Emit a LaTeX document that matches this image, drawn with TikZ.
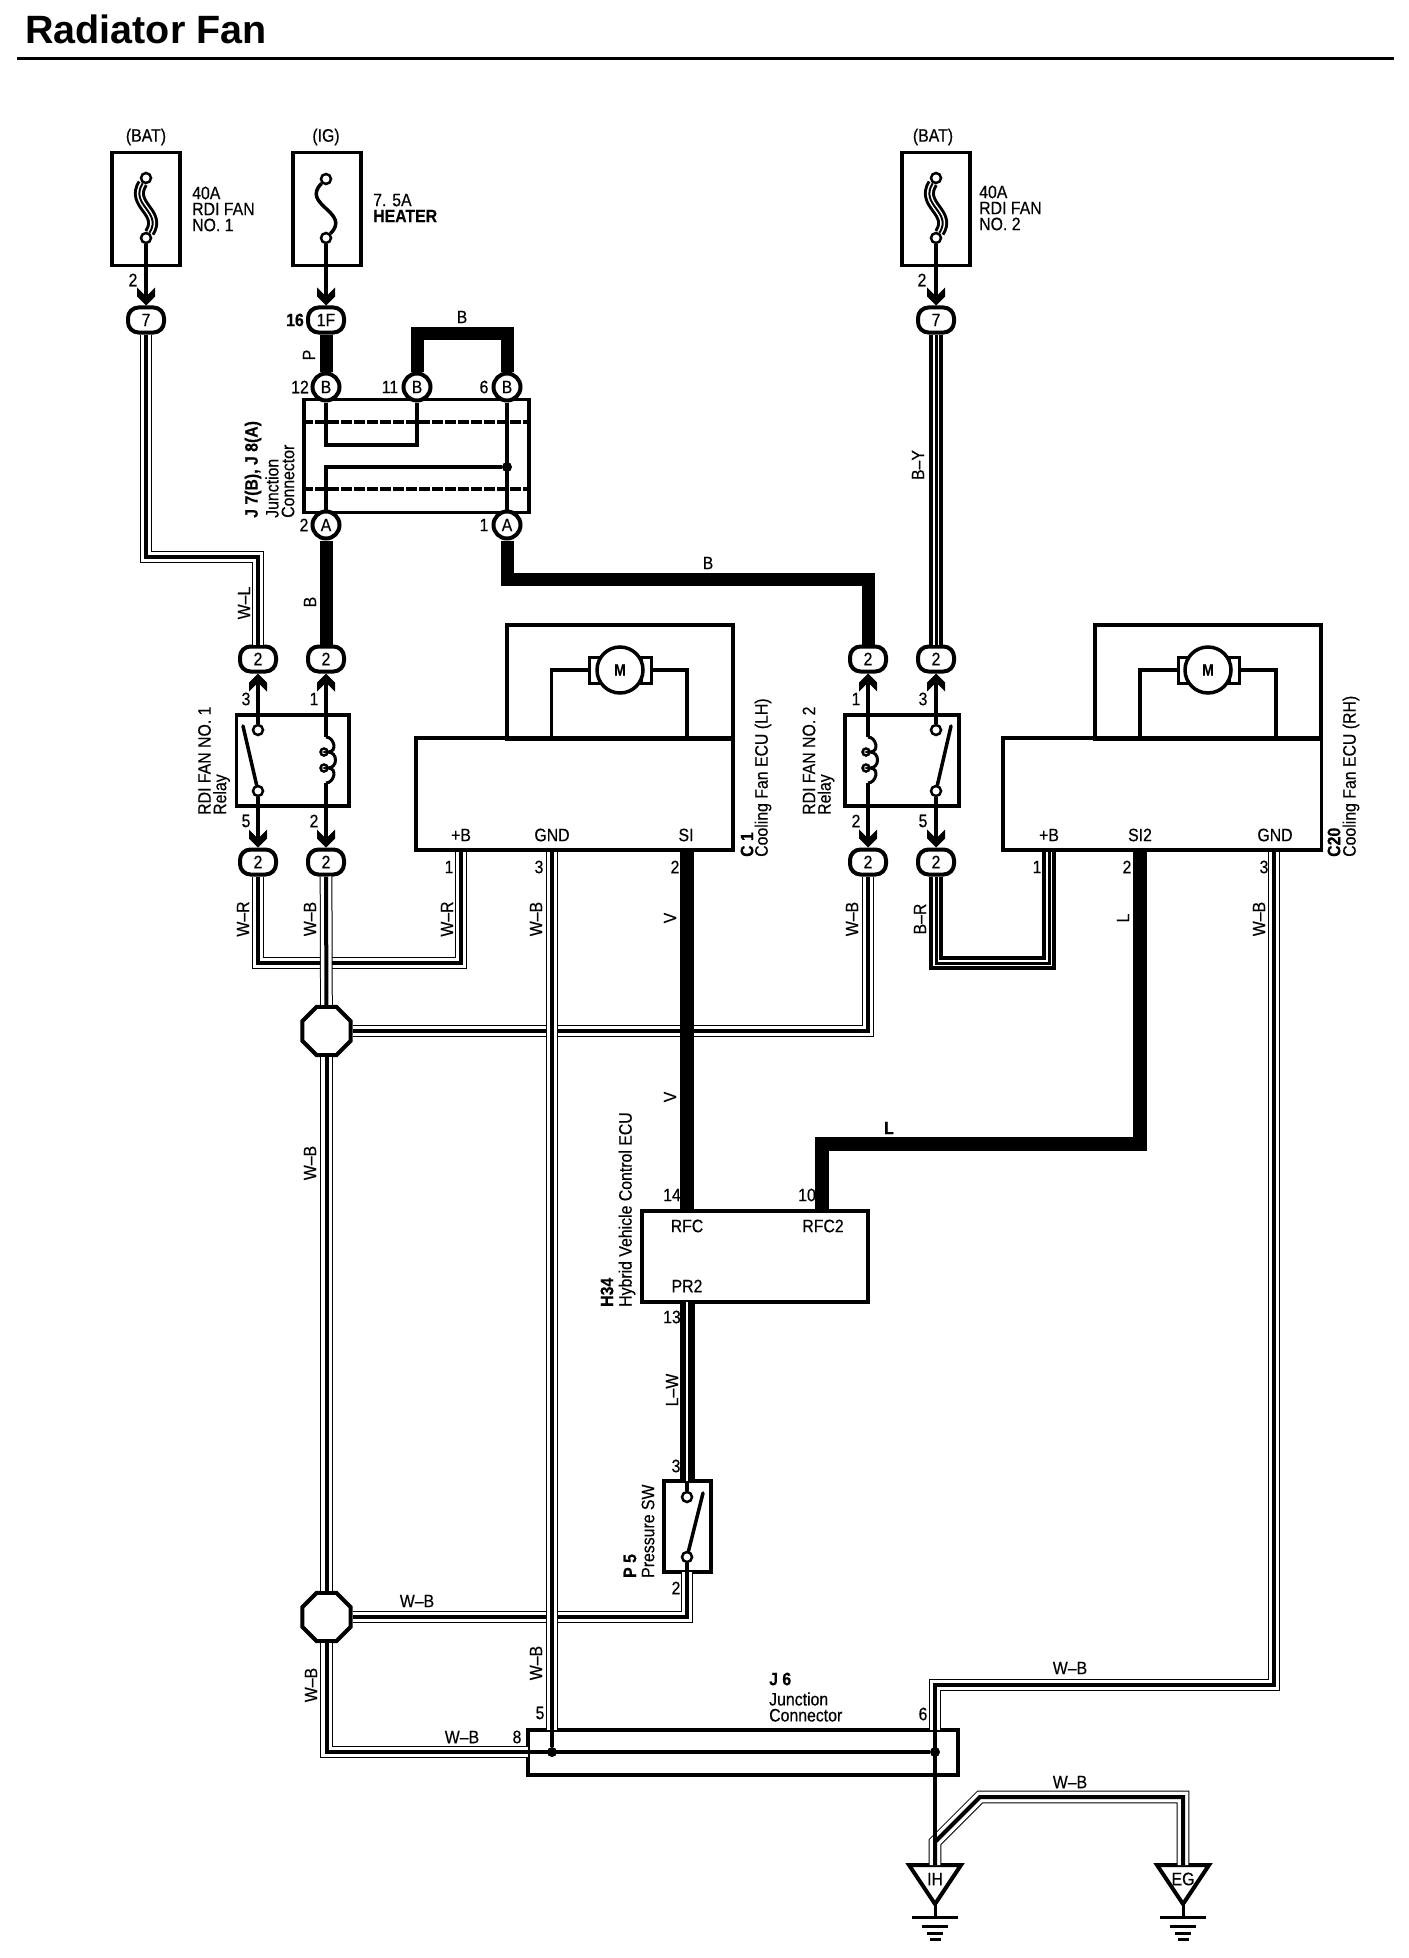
\documentclass[tikz,border=0pt]{standalone}
\usepackage{fontspec}
\setmainfont{Liberation Sans}[FakeStretch=0.88,FakeBold=0.4]
\newfontfamily\titlefont{Liberation Sans}
\usetikzlibrary{
        arrows.meta,
        positioning,
        shapes.geometric
    }
\pgfdeclarearrow{
    name=Plug,
    setup code={\pgfarrowssettipend{0pt}\pgfarrowssetlineend{-9pt}\pgfarrowssetbackend{-18pt}},
    drawing code={
        \pgfpathmoveto{\pgfpoint{0pt}{0pt}}
        \pgfpathlineto{\pgfpoint{-9pt}{9pt}}
        \pgfpathlineto{\pgfpoint{-18pt}{9pt}}
        \pgfpathlineto{\pgfpoint{-9pt}{0pt}}
        \pgfpathlineto{\pgfpoint{-18pt}{-9pt}}
        \pgfpathlineto{\pgfpoint{-9pt}{-9pt}}
        \pgfpathclose
        \pgfusepathqfill
    }
}
\tikzset{
    txt/.style={inner sep=0pt,font=\fontsize{18}{16}\selectfont,align=left},
    txtb/.style={txt,font=\fontsize{18}{16}\selectfont\bfseries},
    up/.style={txt,rotate=90},
    upb/.style={txtb,rotate=90},
    unitbox/.style={draw,line width=3.5pt,inner sep=0pt},
    conn/.style={draw,fill=white,line width=4pt,rounded corners=10.5pt,minimum width=36pt,minimum height=25pt,inner sep=0pt,font=\fontsize{18}{18}\selectfont},
    jpin/.style={draw,fill=white,circle,line width=4pt,minimum size=27pt,inner sep=0pt,font=\fontsize{18}{18}\selectfont},
    term/.style={draw,fill=white,circle,line width=2.5pt,minimum size=10pt,inner sep=0pt},
    dot/.style={fill=black,circle,minimum size=10pt,inner sep=0pt},
    splice/.style={draw,fill=white,regular polygon,regular polygon sides=8,line width=4pt,minimum size=52pt,inner sep=0pt},
    motor/.style={draw,fill=white,circle,line width=3.5pt,minimum size=46pt,inner sep=0pt,font=\fontsize{16}{16}\selectfont\bfseries},
    brush/.style={draw,fill=white,line width=3pt,minimum width=10pt,minimum height=26pt,inner sep=0pt},
    pinwire/.style={line width=3.5pt},
    plug/.style={pinwire,-{Plug}},
    solid13/.style={line width=13pt},
    solid15/.style={line width=14.5pt},
    wstripe/.style={line width=4pt,preaction={draw,line width=12.7pt},preaction={draw,white,line width=10.7pt}},
    bstripe/.style={line width=3pt,preaction={draw,line width=14pt},preaction={draw,white,line width=6.5pt}},
    lstripe/.style={preaction={draw,line width=15pt},draw=white,line width=2pt},
    fuselink/.style={line width=2pt,preaction={draw,line width=11pt},preaction={draw,white,line width=5pt}},
    dashrow/.style={line width=3.5pt,dash pattern=on 11pt off 2pt},
    pics/coil/.style={code={
        \draw[line width=3pt] (0,0) .. controls (8,0) and (12,15) .. (2,15)
            .. controls (12,15) and (12,31) .. (2,31) .. controls (12,31) and (8,46) .. (0,46);
        \draw[line width=2.5pt] (-2,15) circle [radius=3.5pt] (-2,31) circle [radius=3.5pt];
    }}
}
\begin{document}
\begin{tikzpicture}[x=1pt,y=-1pt]
    \useasboundingbox (0,0) rectangle (1408,1958);
    \node[inner sep=0pt,font=\fontsize{39.5}{39.5}\selectfont\titlefont\bfseries,anchor=west] (title) at (25,29) {Radiator Fan};
    \draw[line width=3pt] (17,58.5) -- (1394,58.5);

    % fuses
    \node[unitbox,minimum width=68pt,minimum height=113pt] (fuse1) at (146,209) {};
    \node[unitbox,minimum width=68pt,minimum height=113pt] (fuse2) at (327,209) {};
    \node[unitbox,minimum width=68pt,minimum height=113pt] (fuse3) at (936,209) {};
    \node[term] (f1a) at (146,178) {};
    \node[term] (f1b) at (146,238) {};
    \node[term] (f2a) at (326,179) {};
    \node[term] (f2b) at (326,238) {};
    \node[term] (f3a) at (936,178) {};
    \node[term] (f3b) at (936,238) {};
    \node[txt] (bat1) at (146,137) {(BAT)};
    \node[txt] (ig) at (326,137) {(IG)};
    \node[txt] (bat2) at (933,137) {(BAT)};
    \node[txt,anchor=west] (f1txt) at (192,209) {40A\\RDI FAN\\NO. 1};
    \node[txt,anchor=west] (f2txt) at (373,208) {7. 5A\\\textbf{HEATER}};
    \node[txt,anchor=west] (f3txt) at (979,208) {40A\\RDI FAN\\NO. 2};

    % connectors
    \node[conn] (cf1) at (146,320) {7};
    \node[conn] (cig) at (326,320) {1F};
    \node[conn] (cf3) at (936,320) {7};
    \node[conn] (cwl) at (258,659) {2};
    \node[conn] (cbl) at (326,659) {2};
    \node[conn] (cbr) at (868,659) {2};
    \node[conn] (cby) at (936,659) {2};
    \node[conn] (cwr) at (258,862) {2};
    \node[conn] (cwb) at (326,862) {2};
    \node[conn] (cwb2) at (868,862) {2};
    \node[conn] (cbk) at (936,862) {2};
    \node[txt] (n2a) at (133,280) {2};
    \node[txt] (n2b) at (922,280) {2};
    \node[txtb] (n16) at (295,320) {16};

    % junction connector
    \node[unitbox,minimum width=225pt,minimum height=113pt] (jbox) at (416.5,456) {};
    \node[jpin] (jb12) at (326,387) {B};
    \node[jpin] (jb11) at (417,387) {B};
    \node[jpin] (jb6) at (507,387) {B};
    \node[jpin] (ja2) at (326,525) {A};
    \node[jpin] (ja1) at (507,525) {A};
    \node[dot] (jdot) at (507,467) {};
    \node[txt] (n12) at (300,387) {12};
    \node[txt] (n11) at (390,387) {11};
    \node[txt] (n6) at (484,387) {6};
    \node[txt] (n2c) at (304,525) {2};
    \node[txt] (n1c) at (484,525) {1};
    \draw[dashrow] (jbox.west |- 0,422) -- (jbox.east |- 0,422);
    \draw[dashrow] (jbox.west |- 0,489) -- (jbox.east |- 0,489);
    \draw[pinwire] (jb12) -- (jb12 |- 0,445) -- (jb11 |- 0,445) -- (jb11);
    \draw[pinwire] (ja2) -- (ja2 |- jdot) -- (jdot);
    \draw[pinwire] (jb6) -- (ja1);
    \node[upb,anchor=west] (j78) at (253,518) {J 7(B), J 8(A)};
    \node[up,anchor=west] (jname1) at (272,518) {Junction};
    \node[up,anchor=west] (jname2) at (288,518) {Connector};

    % relays
    \node[unitbox,minimum width=112.5pt,minimum height=91pt] (relay1) at (292.75,760.5) {};
    \node[term] (r1a) at (258,730) {};
    \node[term] (r1b) at (258,791) {};
    \coordinate (r1tip) at (243,726);
    \coordinate (c1a) at (326,737);
    \coordinate (c1b) at (326,783);
    \pic at (c1a) {coil};
    \draw[pinwire,line cap=round] (r1b) -- (r1tip);
    \node[up,anchor=west] (r1name) at (204.5,815) {RDI FAN NO. 1};
    \node[up,anchor=west] (r1rel) at (221.5,815) {Relay};
    \node[txt] (n3a) at (246,699) {3};
    \node[txt] (n1a) at (314,699) {1};
    \node[txt] (n5a) at (246,821) {5};
    \node[txt] (n2d) at (314,821) {2};
    \node[unitbox,minimum width=114pt,minimum height=91pt] (relay2) at (902,760.5) {};
    \node[term] (r2a) at (936,730) {};
    \node[term] (r2b) at (936,791) {};
    \coordinate (r2tip) at (951,726);
    \coordinate (c2a) at (868,737);
    \coordinate (c2b) at (868,783);
    \pic at (c2a) {coil};
    \draw[pinwire,line cap=round] (r2b) -- (r2tip);
    \node[up,anchor=west] (r2name) at (809,815) {RDI FAN NO. 2};
    \node[up,anchor=west] (r2rel) at (826,815) {Relay};
    \node[txt] (n1b) at (856,699) {1};
    \node[txt] (n3b) at (923,699) {3};
    \node[txt] (n2e) at (856,821) {2};
    \node[txt] (n5b) at (923,821) {5};
    \path[plug]
        (f1b) edge (cf1)
        (f2b) edge (cig)
        (f3b) edge (cf3)
        (r1a) edge (cwl)
        (c1a) edge (cbl)
        (r1b) edge (cwr)
        (c1b) edge (cwb)
        (c2a) edge (cbr)
        (r2a) edge (cby)
        (c2b) edge (cwb2)
        (r2b) edge (cbk)
    ;

    % fuse links
    \draw[fuselink] (f1a) .. controls (129,205) and (163,212) .. (f1b);
    \draw[line width=3.5pt] (f2a) .. controls (300,205) and (352,212) .. (f2b);
    \draw[fuselink] (f3a) .. controls (919,205) and (953,212) .. (f3b);

    % cooling fan ecus
    \node[unitbox,minimum width=226pt,minimum height=114pt] (top1) at (620,682) {};
    \node[unitbox,minimum width=317pt,minimum height=112pt] (ecu1) at (574.5,794) {};
    \node[brush] (bl1) at (594,670) {};
    \node[brush] (br1) at (646,670) {};
    \node[motor] (m1) at (620,670) {M};
    \coordinate (m1l) at (551.5,738);
    \coordinate (m1r) at (687,738);
    \draw[pinwire] (bl1) -| (m1l);
    \draw[pinwire] (br1) -| (m1r);
    \node[txt] (pb1) at (461,835) {+B};
    \node[txt] (pg1) at (552,835) {GND};
    \node[txt] (ps1) at (686,835) {SI};
    \node[txt] (n1f) at (449,867) {1};
    \node[txt] (n3f) at (539,867) {3};
    \node[txt] (n2f) at (675,867) {2};
    \node[upb,anchor=west] (c1id) at (747,857) {C 1};
    \node[up,anchor=west] (c1name) at (763,857) {Cooling Fan ECU (LH)};
    \coordinate (e1b) at (461,852);
    \coordinate (e1g) at (552,852);
    \coordinate (e1s) at (687,852);

    \node[unitbox,minimum width=226pt,minimum height=114pt] (top2) at (1208,682) {};
    \node[unitbox,minimum width=318.5pt,minimum height=112pt] (ecu2) at (1162,794) {};
    \node[brush] (bl2) at (1183,670) {};
    \node[brush] (br2) at (1234,670) {};
    \node[motor] (m2) at (1208,670) {M};
    \coordinate (m2l) at (1140,738);
    \coordinate (m2r) at (1276,738);
    \draw[pinwire] (bl2) -| (m2l);
    \draw[pinwire] (br2) -| (m2r);
    \node[txt] (pb2) at (1049,835) {+B};
    \node[txt] (ps2) at (1140,835) {SI2};
    \node[txt] (pg2) at (1275,835) {GND};
    \node[txt] (n1g) at (1037,867) {1};
    \node[txt] (n2g) at (1127,867) {2};
    \node[txt] (n3g) at (1264,867) {3};
    \node[upb,anchor=west] (c20id) at (1334,857) {C20};
    \node[up,anchor=west] (c20name) at (1351,857) {Cooling Fan ECU (RH)};
    \coordinate (e2b) at (1049,852);
    \coordinate (e2s) at (1140,852);
    \coordinate (e2g) at (1274,852);

    % hybrid ecu and pressure switch
    \node[unitbox,minimum width=226pt,minimum height=91pt] (h34) at (755,1256.5) {};
    \node[txt] (prfc) at (687,1226) {RFC};
    \node[txt] (prfc2) at (823,1226) {RFC2};
    \node[txt] (ppr2) at (687,1286) {PR2};
    \node[txt] (n14) at (672,1195) {14};
    \node[txt] (n10) at (807,1195) {10};
    \node[txt] (n13) at (672,1317) {13};
    \node[upb,anchor=west] (h34id) at (607,1307) {H34};
    \node[up,anchor=west] (h34name) at (627,1307) {Hybrid Vehicle Control ECU};
    \coordinate (hs1) at (687,1211);
    \coordinate (hs2) at (822,1211);
    \coordinate (hp) at (687,1302);
    \node[unitbox,minimum width=47pt,minimum height=91pt] (psw) at (687.5,1526.5) {};
    \node[term] (pa) at (687,1497) {};
    \node[term] (pb) at (687,1557) {};
    \coordinate (ptip) at (703,1493);
    \coordinate (ptop) at (687,1481);
    \coordinate (pbot) at (687,1572);
    \draw[pinwire] (ptop) -- (pa);
    \draw[pinwire] (pb) -- (pbot);
    \draw[pinwire,line cap=round] (pb) -- (ptip);
    \node[upb,anchor=west] (p5id) at (630,1578) {P 5};
    \node[up,anchor=west] (p5name) at (648,1578) {Pressure SW};
    \node[txt] (n3h) at (676,1466) {3};
    \node[txt] (n2h) at (676,1588) {2};

    % j6
    \node[unitbox,minimum width=430pt,minimum height=45pt] (j6) at (743,1752.5) {};
    \node[dot] (j6a) at (552,1752) {};
    \node[dot] (j6b) at (935,1752) {};
    \coordinate (j6l) at (528,1752);
    \coordinate (j6top5) at (552,1730);
    \coordinate (j6top6) at (935,1730);
    \node[txtb,anchor=west] (j6id) at (769,1679) {J 6};
    \node[txt,anchor=west] (j6name) at (769,1707) {Junction\\Connector};
    \node[txt] (n5j) at (540,1713) {5};
    \node[txt] (n8j) at (517,1737) {8};
    \node[txt] (n6j) at (923,1714) {6};

    % splices
    \node[splice] (sp1) at (326.5,1031) {};
    \node[splice] (sp2) at (326.5,1617) {};

    % grounds
    \node[txt] (ih) at (935,1879) {IH};
    \node[txt] (eg) at (1183,1879) {EG};
    \coordinate (iht) at (935,1865);
    \coordinate (egt) at (1183,1865);
    \draw[line width=4pt,line join=miter] (909,1865) -- (961,1865) -- (935,1904) -- cycle;
    \draw[line width=4pt,line join=miter] (1157,1865) -- (1209,1865) -- (1183,1904) -- cycle;
    \draw[line width=3pt] (935,1904) -- (935,1917);
    \draw[line width=3pt] (912,1917) -- (958,1917);
    \draw[line width=3pt] (922,1926) -- (948,1926);
    \draw[line width=3pt] (927,1933) -- (943,1933);
    \draw[line width=3pt] (930,1939) -- (941,1939);
    \draw[line width=3pt] (1183,1904) -- (1183,1917);
    \draw[line width=3pt] (1160,1917) -- (1206,1917);
    \draw[line width=3pt] (1170,1926) -- (1196,1926);
    \draw[line width=3pt] (1175,1933) -- (1191,1933);
    \draw[line width=3pt] (1178,1939) -- (1189,1939);

    % wires
    \draw[solid13] (cig) -- (jb12);
    \draw[solid13] (jb11) -- (jb11 |- 0,333) -- (jb6 |- 0,333) -- (jb6);
    \draw[solid13] (ja2) -- (cbl);
    \draw[solid13] (ja1) -- (ja1 |- 0,579) -- (cbr |- 0,579) -- (cbr);
    \draw[wstripe] (cf1) -- (cf1 |- 0,557) -- (cwl |- 0,557) -- (cwl);
    \draw[bstripe] (cf3) -- (cby);
    \draw[wstripe] (cwr) -- (cwr |- 0,963) -- (e1b |- 0,963) -- (e1b);
    \draw[bstripe] (cbk) -- (cbk |- 0,963) -- (e2b |- 0,963) -- (e2b);
    \draw[wstripe] (sp1) -- (cwb2 |- sp1) -- (cwb2);
    \draw[wstripe] (sp2) -- (pbot |- sp2) -- (pbot);
    \draw[wstripe] (cwb) -- (sp1);
    \draw[wstripe] (sp1) -- (sp2);
    \draw[wstripe] (sp2) -- (sp2 |- j6l) -- (j6l);
    \draw[wstripe] (e1g) -- (j6top5);
    \draw[wstripe] (j6top6) -- (j6top6 |- 0,1685) -- (e2g |- 0,1685) -- (e2g);
    \draw[solid15] (e1s) -- (hs1);
    \draw[solid15] (e2s) -- (e2s |- 0,1144) -- (hs2 |- 0,1144) -- (hs2);
    \draw[lstripe] (hp) -- (ptop);
    \draw[wstripe] (iht) -- (935,1842) -- (980,1797) -- (1183,1797) -- (egt);
    \draw[pinwire] (j6top5) -- (j6a);
    \draw[pinwire] (j6l) -- (j6b);
    \draw[pinwire] (j6top6) -- (iht);

    % wire colours
    \node[up] (lp) at (309,355) {P};
    \node[txt] (lb1) at (462,317) {B};
    \node[up] (lb2) at (310,602) {B};
    \node[txt] (lb3) at (708,563) {B};
    \node[up] (lwl) at (244,603) {W–L};
    \node[up] (lby) at (918,465) {B–Y};
    \node[up] (lwr1) at (243,919) {W–R};
    \node[up] (lwb1) at (310,919) {W–B};
    \node[up] (lwr2) at (447,919) {W–R};
    \node[up] (lwb2) at (536,919) {W–B};
    \node[up] (lv1) at (670,918) {V};
    \node[up] (lwb3) at (852,919) {W–B};
    \node[up] (lbr) at (920,919) {B–R};
    \node[up] (ll1) at (1123,918) {L};
    \node[up] (lwb4) at (1259,919) {W–B};
    \node[up] (lwb5) at (310,1163) {W–B};
    \node[up] (lv2) at (670,1097) {V};
    \node[txtb] (ll2) at (889,1128) {L};
    \node[up] (llw) at (672,1390) {L–W};
    \node[txt] (lwb6) at (417,1601) {W–B};
    \node[up] (lwb7) at (536,1663) {W–B};
    \node[up] (lwb8) at (311,1685) {W–B};
    \node[txt] (lwb9) at (462,1737) {W–B};
    \node[txt] (lwb10) at (1070,1668) {W–B};
    \node[txt] (lwb11) at (1070,1782) {W–B};
\end{tikzpicture}
\end{document}
